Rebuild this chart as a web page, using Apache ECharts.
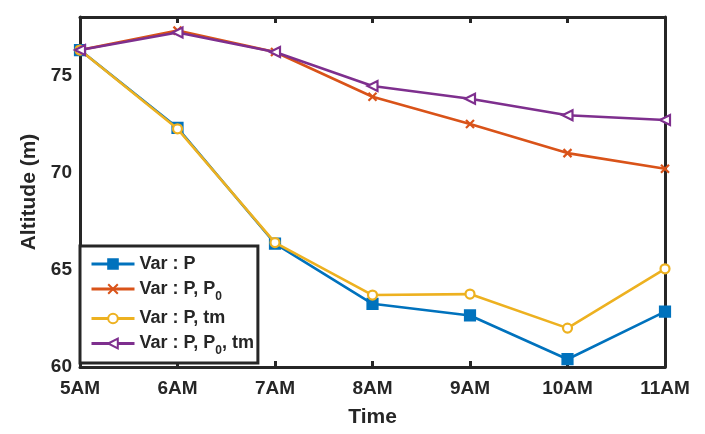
<!DOCTYPE html>
<html><head><meta charset="utf-8">
<script src="https://cdn.jsdelivr.net/npm/echarts@6/dist/echarts.min.js"></script>
<style>html,body{margin:0;padding:0;background:#fff}#c{width:705px;height:434px}</style>
</head><body><div id="c"></div>
<script>
var categories = ['5AM','6AM','7AM','8AM','9AM','10AM','11AM'];
var varP      = [76.3, 72.3, 66.35, 63.25, 62.65, 60.4, 62.85];
var varPP0    = [76.3, 77.3, 76.2, 73.9, 72.5, 71.0, 70.2];
var varPtm    = [76.3, 72.25, 66.4, 63.7, 63.75, 62.0, 65.05];
var varPP0tm  = [76.3, 77.2, 76.2, 74.45, 73.8, 72.95, 72.7];
var seriesNames = ['Var : P', 'Var : P, P0', 'Var : P, tm', 'Var : P, P0, tm'];
var legendLabels = ['Var : P', 'Var : P, P{sub|0}', 'Var : P, tm', 'Var : P, P{sub|0}, tm'];
var yTicks = {min: 60, max: 78, interval: 5};

var FONT = 'Liberation Sans, Arial, sans-serif';
var INK = '#262626';
var chart = echarts.init(document.getElementById('c'));
var axisLineStyle = {lineStyle: {color: INK, width: 3}};
var tickStyle = {inside: true, length: 6, lineStyle: {color: INK, width: 3}};
function mk(name, data, color, symbol, size, fill, z) {
  return {
    name: name, type: 'line', data: data, z: z,
    xAxisIndex: 0, yAxisIndex: 0,
    lineStyle: {color: color, width: 2.6},
    itemStyle: {color: fill, borderColor: color, borderWidth: 2.2},
    symbol: symbol, symbolSize: size, showSymbol: true,
    emphasis: {disabled: true}, animation: false
  };
}
var labelMap = {};
seriesNames.forEach(function (n, i) { labelMap[n] = legendLabels[i]; });
chart.setOption({
  backgroundColor: '#fff',
  animation: false,
  grid: {left: 80, right: 40, top: 17, bottom: 67},
  legend: {
    orient: 'vertical', left: 80, top: 246,
    data: seriesNames,
    itemWidth: 43, itemHeight: 12, itemGap: 7,
    padding: [9, 4, 6, 10],
    borderColor: INK, borderWidth: 3, backgroundColor: '#fff',
    lineStyle: {width: 3},
    formatter: function (n) { return labelMap[n]; },
    textStyle: {
      fontFamily: FONT, fontWeight: 'bold', fontSize: 18, color: INK,
      rich: {sub: {fontFamily: FONT, fontWeight: 'bold', fontSize: 12, color: INK, padding: [15, 0, 0, 0]}}
    }
  },
  xAxis: [{
    type: 'category', data: categories, boundaryGap: false,
    name: 'Time', nameLocation: 'middle', nameGap: 40,
    nameTextStyle: {fontFamily: FONT, fontWeight: 'bold', fontSize: 21, color: INK},
    axisLine: axisLineStyle, axisTick: Object.assign({alignWithLabel: true}, tickStyle),
    axisLabel: {fontFamily: FONT, fontWeight: 'bold', fontSize: 19, color: INK, margin: 12},
    splitLine: {show: false}
  }, {
    type: 'category', data: categories, boundaryGap: false, position: 'top',
    axisLine: axisLineStyle, axisTick: tickStyle, axisLabel: {show: false}, splitLine: {show: false}
  }],
  yAxis: [{
    type: 'value', min: yTicks.min, max: yTicks.max, interval: yTicks.interval,
    name: 'Altitude (m)', nameLocation: 'middle', nameGap: 33,
    nameTextStyle: {fontFamily: FONT, fontWeight: 'bold', fontSize: 21, color: INK},
    axisLine: {show: true, lineStyle: {color: INK, width: 3}}, axisTick: tickStyle,
    axisLabel: {fontFamily: FONT, fontWeight: 'bold', fontSize: 19, color: INK, margin: 8, showMaxLabel: false},
    splitLine: {show: false}
  }, {
    type: 'value', min: yTicks.min, max: yTicks.max, interval: yTicks.interval, position: 'right',
    axisLine: {show: true, lineStyle: {color: INK, width: 3}}, axisTick: tickStyle,
    axisLabel: {show: false}, splitLine: {show: false}
  }],
  series: [
    mk(seriesNames[0], varP, '#0072BD', 'rect', 10, '#0072BD', 2),
    mk(seriesNames[1], varPP0, '#D95319', 'path://M0,0 L10,10 M10,0 L0,10', 8, 'none', 3),
    mk(seriesNames[2], varPtm, '#EDB120', 'circle', 9, '#fff', 4),
    mk(seriesNames[3], varPP0tm, '#7E2F8E', 'path://M0,5 L9,0 L9,10 Z', 10, '#fff', 5)
  ]
});
</script></body></html>
